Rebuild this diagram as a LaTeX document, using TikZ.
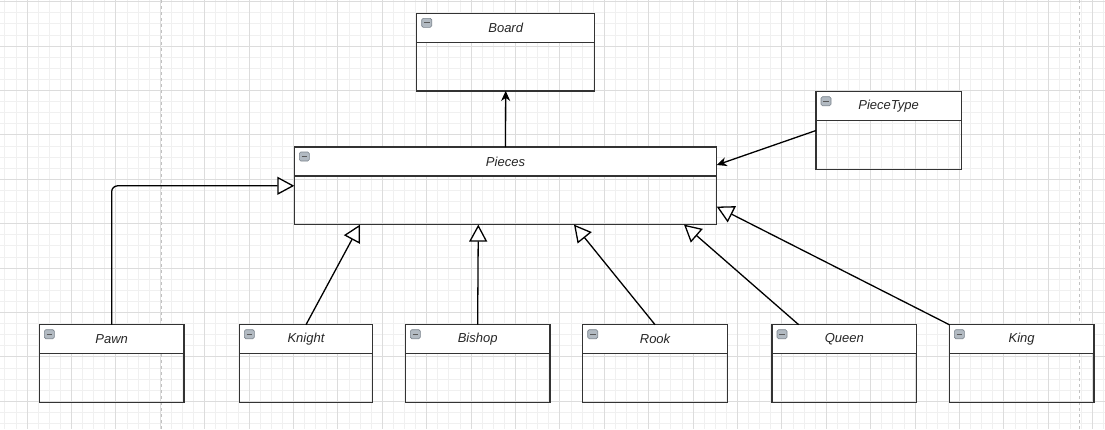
\documentclass[tikz,border=0pt]{standalone}
\usepackage{fontspec}
\setmainfont{Liberation Sans}
\usetikzlibrary{arrows.meta}

\definecolor{gridminor}{HTML}{F0F0F0}
\definecolor{gridmajor}{HTML}{DCDCDC}
\definecolor{pagebreak}{HTML}{C2C2C2}
\definecolor{boxline}{HTML}{333333}
\definecolor{iconfill}{HTML}{B2BAC2}
\definecolor{iconline}{HTML}{7A838C}
\definecolor{textcol}{HTML}{262626}

\tikzset{
  classanchor/.style={inner sep=0pt, outer sep=0pt, anchor=north west},
  classline/.style={draw=boxline, line width=1.5pt},
  classtitle/.style={font=\fontsize{13}{15}\selectfont\itshape, text=textcol, inner sep=0pt},
  classicon/.style={draw=iconline, fill=iconfill, line width=0.6pt, rounded corners=1.5pt},
  inherit/.style={draw=black, line width=1.3pt, -{Triangle[fill=white, length=17pt, width=18pt]}},
  assoc/.style={draw=black, line width=1.3pt, -{Stealth[length=10pt, width=9pt, inset=3pt]}},
}

% \umlclass{name}{x}{y}{width}{height}{title}
\newcommand\umlclass[6]{%
  \node[classanchor, minimum width=#4pt, minimum height=#5pt] (#1) at (#2,#3) {};
  \fill[white] (#1.north west) rectangle ([yshift=-29pt]#1.north east);
  \draw[classline] (#1.north west) rectangle (#1.south east);
  \draw[classline] ([yshift=-29pt]#1.north west) -- ([yshift=-29pt]#1.north east);
  \node[classtitle] (#1-title) at ([yshift=-14.5pt]#1.north) {#6};
  \draw[classicon] ([xshift=5pt,yshift=-5pt]#1.north west) rectangle ++(10pt,-9pt);
  \draw[line width=1.1pt, black!65] ([xshift=7.2pt,yshift=-9.5pt]#1.north west) -- ++(5.6pt,0pt);
}

\begin{document}
\begin{tikzpicture}[x=1pt, y=-1pt]
  \useasboundingbox (0,0) rectangle (1105,429);
  \fill[white] (0,0) rectangle (1105,429);

  % drawing grid: minor and major lines
  \begin{scope}
    \clip (0,0) rectangle (1105,429);
    \foreach \i in {0,...,99} \draw[gridminor, line width=0.8pt] ({4.8+\i*11.1},0) -- ++(0,429);
    \foreach \j in {0,...,38} \draw[gridminor, line width=0.8pt] (0,{1.6+\j*11.1}) -- ++(1105,0);
    \foreach \i in {0,...,24} \draw[gridmajor, line width=1pt] ({27+\i*44.4},0) -- ++(0,429);
    \foreach \j in {0,...,9} \draw[gridmajor, line width=1pt] (0,{1.6+\j*44.4}) -- ++(1105,0);
    % page breaks
    \draw[pagebreak, line width=1.2pt, dash pattern=on 3pt off 3pt] (161.3,0) -- ++(0,429);
    \draw[pagebreak, line width=1.2pt, dash pattern=on 3pt off 3pt] (1079.5,0) -- ++(0,429);
  \end{scope}

  % classes
  \umlclass{board}{416.7}{13.3}{178}{77.6}{Board}
  \umlclass{pieces}{294.3}{147}{422.4}{77.6}{Pieces}
  \umlclass{piecetype}{816}{91.7}{145.3}{77.6}{PieceType}
  \umlclass{pawn}{39.3}{324.7}{144.7}{77.6}{Pawn}
  \umlclass{knight}{239.3}{324.7}{133.4}{77.6}{Knight}
  \umlclass{bishop}{405.3}{324.7}{144.7}{77.6}{Bishop}
  \umlclass{rook}{582.7}{324.7}{144.7}{77.6}{Rook}
  \umlclass{queen}{772}{324.7}{144.7}{77.6}{Queen}
  \umlclass{king}{949.3}{324.7}{144.7}{77.6}{King}

  % associations
  \draw[assoc] (pieces.north) -- (board.south);
  \draw[assoc] (piecetype.west) -- ([yshift=-18pt]pieces.north east);

  % generalizations
  \draw[inherit, rounded corners=6pt] (pawn.north) |- (pieces.west);
  \draw[inherit] (knight.north) -- ([xshift=65.7pt]pieces.south west);
  \draw[inherit] (bishop.north) -- ([xshift=184pt]pieces.south west);
  \draw[inherit] (rook.north) -- ([xshift=279.7pt]pieces.south west);
  \draw[inherit] ([xshift=26.7pt]queen.north west) -- ([xshift=389.7pt]pieces.south west);
  \draw[inherit] (king.north west) -- ([yshift=18pt]pieces.south east);
\end{tikzpicture}
\end{document}
